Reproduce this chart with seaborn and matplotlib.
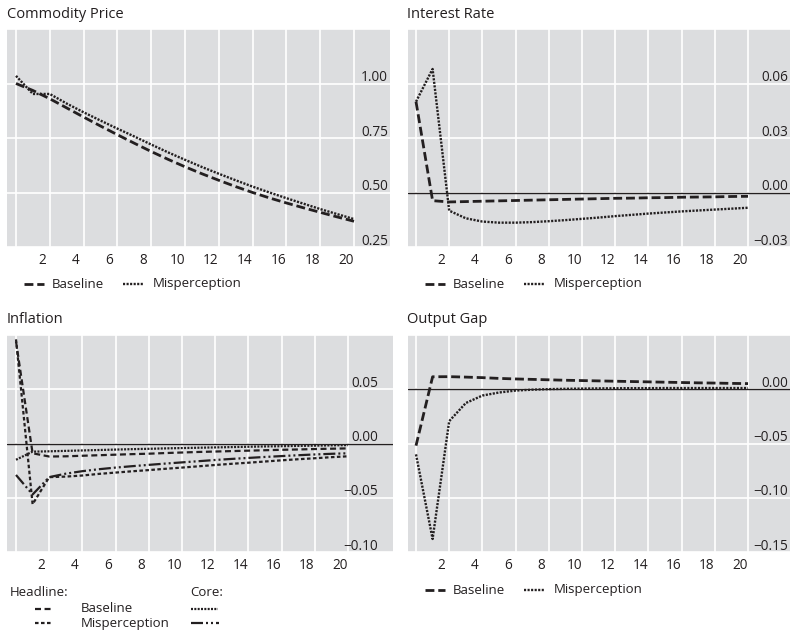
import matplotlib
matplotlib.use("Agg")
import matplotlib.pyplot as plt
from matplotlib.lines import Line2D
from matplotlib import transforms
import pandas as pd
import seaborn as sns

# ---- data -------------------------------------------------------------
periods = list(range(21))

commodity_baseline = [1.000, 0.968, 0.930, 0.888, 0.846, 0.805, 0.765, 0.726, 0.688,
                      0.652, 0.618, 0.586, 0.556, 0.527, 0.500, 0.475, 0.452, 0.430,
                      0.409, 0.388, 0.368]
commodity_misperception = [1.035, 0.952, 0.952, 0.908, 0.868, 0.830, 0.793, 0.757, 0.720,
                           0.684, 0.650, 0.617, 0.586, 0.556, 0.527, 0.500, 0.474, 0.449,
                           0.424, 0.401, 0.378]

rate_baseline = [0.050, -0.0045, -0.0052, -0.0050, -0.0048, -0.0046, -0.0044, -0.0042,
                 -0.0040, -0.0038, -0.0036, -0.0034, -0.0032, -0.0031, -0.0029, -0.0028,
                 -0.0026, -0.0025, -0.0024, -0.0022, -0.0021]
rate_misperception = [0.050, 0.068, -0.0100, -0.0142, -0.0160, -0.0166, -0.0166, -0.0163,
                      -0.0158, -0.0152, -0.0145, -0.0138, -0.0130, -0.0123, -0.0116,
                      -0.0110, -0.0104, -0.0099, -0.0094, -0.0089, -0.0084]

headline_baseline = [0.094, -0.0090, -0.0120, -0.0118, -0.0113, -0.0108, -0.0103, -0.0098,
                     -0.0094, -0.0088, -0.0083, -0.0078, -0.0074, -0.0070, -0.0066,
                     -0.0062, -0.0058, -0.0055, -0.0051, -0.0048, -0.0045]
headline_misperception = [0.096, -0.0560, -0.0310, -0.0305, -0.0295, -0.0280, -0.0268,
                          -0.0256, -0.0245, -0.0233, -0.0222, -0.0210, -0.0198, -0.0187,
                          -0.0177, -0.0166, -0.0155, -0.0145, -0.0136, -0.0126, -0.0118]
core_baseline = [-0.0150, -0.0075, -0.0072, -0.0068, -0.0064, -0.0060, -0.0056, -0.0052,
                 -0.0049, -0.0045, -0.0042, -0.0039, -0.0036, -0.0033, -0.0030, -0.0027,
                 -0.0025, -0.0022, -0.0020, -0.0017, -0.0015]
core_misperception = [-0.0290, -0.0470, -0.0310, -0.0278, -0.0255, -0.0237, -0.0222,
                      -0.0209, -0.0197, -0.0185, -0.0174, -0.0163, -0.0152, -0.0142,
                      -0.0133, -0.0124, -0.0116, -0.0108, -0.0101, -0.0095, -0.0090]

gap_baseline = [-0.052, 0.0115, 0.0116, 0.0112, 0.0107, 0.0100, 0.0095, 0.0091, 0.0087,
                0.0083, 0.0080, 0.0077, 0.0074, 0.0071, 0.0068, 0.0065, 0.0062, 0.0059,
                0.0057, 0.0054, 0.0052]
gap_misperception = [-0.060, -0.138, -0.0294, -0.0127, -0.0058, -0.0030, -0.0012, -0.0004,
                     0.0001, 0.0004, 0.0006, 0.0008, 0.0009, 0.0010, 0.0010, 0.0011,
                     0.0011, 0.0011, 0.0011, 0.0011, 0.0011]

x_tick_labels = ["2", "4", "6", "8", "10", "12", "14", "16", "18", "20"]

commodity_ticks = [0.25, 0.50, 0.75, 1.00]
rate_ticks = [-0.03, 0.00, 0.03, 0.06]
inflation_ticks = [-0.10, -0.05, 0.00, 0.05]
gap_ticks = [-0.15, -0.10, -0.05, 0.00]

# ---- styling ----------------------------------------------------------
W, H = 790, 633
INK = "#231f20"
PANEL = "#dcdddf"
TITLE_SIZE = 10.5
TEXT_SIZE = 9.5
TICK_SIZE = 9.8

sns.set_theme(style="whitegrid")
plt.rcParams["font.family"] = ["Open Sans", "DejaVu Sans"]
plt.rcParams["text.color"] = INK
plt.rcParams["axes.unicode_minus"] = True

BASE_LS = (0, (3.2, 1.4))
MIS_LS = (0, (0.9, 0.6))
HB_LS = (0, (2.7, 1.6))
HM_LS = (0, (1.6, 1.1))
CB_LS = (0, (0.9, 0.6))
CM_LS = (0, (5.4, 1.35, 0.9, 1.35, 0.9, 1.35))

fig = plt.figure(figsize=(W / 100, H / 100), dpi=100)


def px(x, y):
    return x / W, 1 - y / H


def make_axes(left, top, right, bottom, x0_px, x20_px):
    ax = fig.add_axes([left / W, 1 - bottom / H, (right - left) / W, (bottom - top) / H])
    unit = (x20_px - x0_px) / 20.0
    ax.set_xlim(-(x0_px - left) / unit, 20 + (right - x20_px) / unit)
    ax.set_facecolor(PANEL)
    for s in ax.spines.values():
        s.set_visible(False)
    return ax


def finish_axes(ax, ticks, step, label_right, zero_line=True):
    lo = ticks[0]
    hi = ticks[-1] + step
    ax.set_ylim(lo, hi)
    ax.set_yticks(ticks + [hi])
    ax.tick_params(axis="y", length=0, labelleft=False, labelright=False)
    ax.set_xticks(range(0, 21, 2))
    ax.tick_params(axis="x", which="major", direction="in", length=6.5, width=1.1,
                   color=INK, labelbottom=False)
    ax.set_xticks([int(t) - 0.47 for t in x_tick_labels], minor=True)
    ax.set_xticklabels(x_tick_labels, minor=True)
    ax.tick_params(axis="x", which="minor", length=0, pad=4, labelsize=TICK_SIZE,
                   labelcolor=INK)
    ax.grid(True, which="major", color="white", linewidth=1.2)
    ax.grid(False, which="minor")
    ax.set_xlabel("")
    ax.set_ylabel("")
    if zero_line:
        ax.axhline(0, color=INK, linewidth=1.0, zorder=1.5)
    trans = transforms.blended_transform_factory(ax.transAxes, ax.transData)
    trans = transforms.offset_copy(trans, fig=fig, y=2.5, units="dots")
    for t in ticks:
        lab = f"{t:.2f}".replace("-", "\u2212")
        if lab == "\u22120.00":
            lab = "0.00"
        ax.text(label_right, t, lab, transform=trans, ha="right", va="baseline",
                fontsize=TICK_SIZE, color=INK)


def draw(ax, values, ls, lw):
    df = pd.DataFrame({"period": periods, "value": values})
    sns.lineplot(data=df, x="period", y="value", ax=ax, color=INK, linewidth=lw,
                 linestyle=ls, sort=False, legend=False, zorder=3)


def pair_legend(ax_left, y):
    x1, y1 = px(ax_left + 17, y)
    x2, _ = px(ax_left + 37, y)
    fig.add_artist(Line2D([x1, x2], [y1, y1], color=INK, lw=2.0, linestyle=BASE_LS,
                          transform=fig.transFigure))
    fig.text(*px(ax_left + 45, y), "Baseline", fontsize=TEXT_SIZE, va="center", ha="left")
    x1, _ = px(ax_left + 116, y)
    x2, _ = px(ax_left + 137, y)
    fig.add_artist(Line2D([x1, x2], [y1, y1], color=INK, lw=1.7, linestyle=MIS_LS,
                          transform=fig.transFigure))
    fig.text(*px(ax_left + 146, y), "Misperception", fontsize=TEXT_SIZE, va="center",
             ha="left")


# ---- Commodity Price ----
ax1 = make_axes(7, 29, 390, 247, 16, 354)
draw(ax1, commodity_baseline, BASE_LS, 2.0)
draw(ax1, commodity_misperception, MIS_LS, 1.7)
finish_axes(ax1, commodity_ticks, 0.25, (388 - 7) / 383, zero_line=False)
fig.text(*px(7, 18), "Commodity Price", fontsize=TITLE_SIZE, va="baseline", ha="left")
pair_legend(7, 284)

# ---- Interest Rate ----
ax2 = make_axes(408, 29, 790, 247, 416, 748)
draw(ax2, rate_baseline, BASE_LS, 2.0)
draw(ax2, rate_misperception, MIS_LS, 1.7)
finish_axes(ax2, rate_ticks, 0.03, (788 - 408) / 382)
fig.text(*px(407, 18), "Interest Rate", fontsize=TITLE_SIZE, va="baseline", ha="left")
pair_legend(408, 284)

# ---- Inflation ----
ax3 = make_axes(7, 335, 393, 552, 16, 348)
draw(ax3, headline_baseline, HB_LS, 1.6)
draw(ax3, headline_misperception, HM_LS, 1.6)
draw(ax3, core_baseline, CB_LS, 1.6)
draw(ax3, core_misperception, CM_LS, 1.6)
finish_axes(ax3, inflation_ticks, 0.05, (378 - 7) / 386)
fig.text(*px(7, 323), "Inflation", fontsize=TITLE_SIZE, va="baseline", ha="left")

fig.text(*px(10, 592), "Headline:", fontsize=TEXT_SIZE, va="center", ha="left")
fig.text(*px(190, 592), "Core:", fontsize=TEXT_SIZE, va="center", ha="left")
fig.text(*px(81, 609), "Baseline", fontsize=TEXT_SIZE, va="center", ha="left")
fig.text(*px(81, 623), "Misperception", fontsize=TEXT_SIZE, va="center", ha="left")
for (xa, xb, yy, ls) in [(35, 51, 609, HB_LS), (35, 51, 623, HM_LS),
                         (191, 218, 609, CB_LS), (191, 219, 623, CM_LS)]:
    a, b = px(xa, yy)
    c, _ = px(xb, yy)
    fig.add_artist(Line2D([a, c], [b, b], color=INK, lw=1.6, linestyle=ls,
                          transform=fig.transFigure))

# ---- Output Gap ----
ax4 = make_axes(408, 335, 790, 552, 416, 748)
draw(ax4, gap_baseline, BASE_LS, 2.0)
draw(ax4, gap_misperception, MIS_LS, 1.7)
finish_axes(ax4, gap_ticks, 0.05, (788 - 408) / 382)
fig.text(*px(407, 323), "Output Gap", fontsize=TITLE_SIZE, va="baseline", ha="left")
pair_legend(408, 590)

fig.savefig("out.png", dpi=100, facecolor="white")
